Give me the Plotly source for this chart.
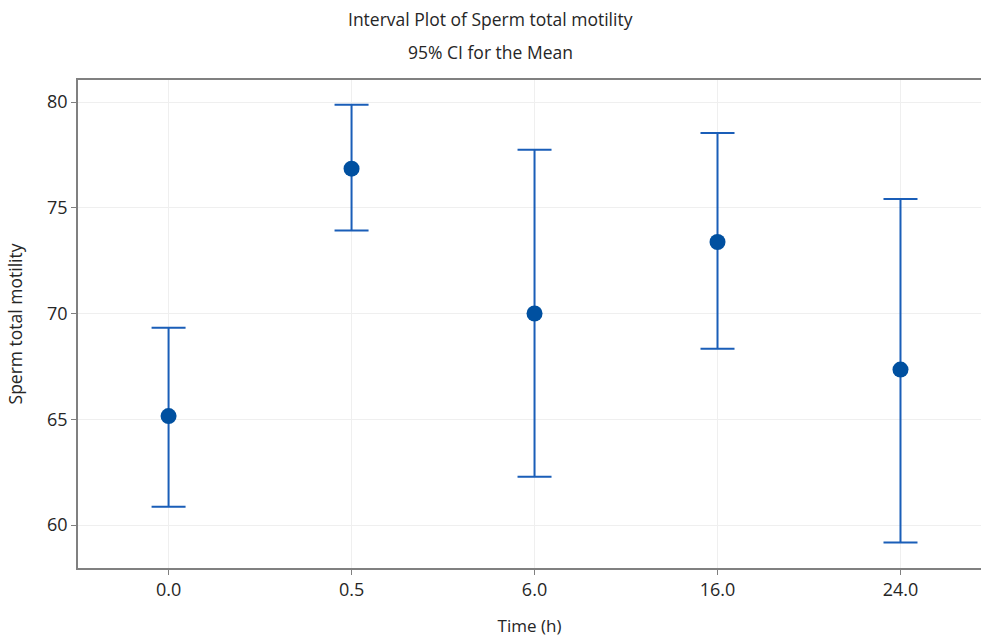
import plotly.graph_objects as go

categories = ["0.0", "0.5", "6.0", "16.0", "24.0"]
means = [65.15, 76.85, 70.0, 73.38, 67.35]
upper = [69.33, 79.87, 77.74, 78.53, 75.42]
lower = [60.87, 73.92, 62.28, 68.33, 59.18]

err_plus = [u - m for u, m in zip(upper, means)]
err_minus = [m - l for m, l in zip(means, lower)]

FONT = "Open Sans"
TXT = "#262626"
AXIS = "#808080"

W, H = 981, 637
ML, MT, MB, MR = 78, 80, 69, 0
plot_h = H - MT - MB
plot_w = W - ML - MR

fig = go.Figure()
fig.add_trace(go.Scatter(
    x=categories, y=means, mode="markers",
    marker=dict(color="#0050A0", size=16, symbol="circle"),
    error_y=dict(type="data", symmetric=False, array=err_plus, arrayminus=err_minus,
                 color="#1A5EB8", thickness=2, width=17),
    showlegend=False,
))

cx = (490 - ML) / plot_w
fig.update_layout(
    width=W, height=H,
    margin=dict(l=ML, r=MR, t=MT, b=MB, autoexpand=False),
    paper_bgcolor="white", plot_bgcolor="white",
    font=dict(family=FONT, color=TXT, size=17),
    annotations=[
        dict(text="Interval Plot of Sperm total motility", x=cx, y=1 + (MT - 19) / plot_h,
             xref="paper", yref="paper", xanchor="center", yanchor="middle",
             showarrow=False, font=dict(size=17.5, family=FONT, color=TXT)),
        dict(text="95% CI for the Mean", x=cx, y=1 + (MT - 52) / plot_h,
             xref="paper", yref="paper", xanchor="center", yanchor="middle",
             showarrow=False, font=dict(size=17.5, family=FONT, color=TXT)),
    ],
)

fig.update_xaxes(
    type="category", range=[-0.495, 4.44],
    showline=True, linecolor=AXIS, linewidth=1.5, mirror=True,
    showgrid=True, gridcolor="#EFEFEF", gridwidth=1,
    ticks="outside", ticklen=5, tickcolor=AXIS,
    tickfont=dict(size=18, family=FONT, color=TXT),
    title=dict(text="Time (h)", font=dict(size=17, family=FONT, color=TXT), standoff=22),
    zeroline=False, automargin=False,
)
fig.update_yaxes(
    range=[57.97, 81.04], tickvals=[60, 65, 70, 75, 80],
    showline=True, linecolor=AXIS, linewidth=1.5, mirror=False,
    showgrid=True, gridcolor="#EFEFEF", gridwidth=1,
    ticks="outside", ticklen=5, tickcolor=AXIS,
    tickfont=dict(size=18, family=FONT, color=TXT),
    title=dict(text="Sperm total motility", font=dict(size=17.5, family=FONT, color=TXT), standoff=20),
    zeroline=False, automargin=False,
)

fig.write_html(
    "out.html",
    config={"displayModeBar": False},
    post_script="document.body.style.margin='0';document.body.style.overflow='hidden';",
)
